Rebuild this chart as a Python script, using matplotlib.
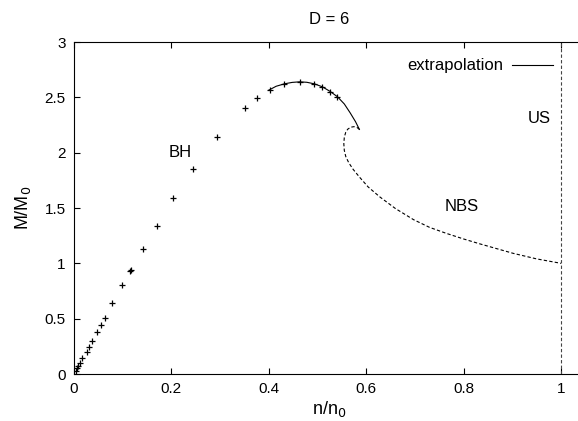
import matplotlib
matplotlib.use("Agg")
import matplotlib.pyplot as plt

plt.rcParams['font.family'] = ['Liberation Sans', 'DejaVu Sans']

# BH data points (crosses)
bh_n = [0.004, 0.0055, 0.0088, 0.0123, 0.017, 0.026, 0.030, 0.0376, 0.047, 0.055,
        0.064, 0.079, 0.0986, 0.115, 0.118, 0.142, 0.170, 0.204, 0.245, 0.293,
        0.351, 0.376, 0.4025, 0.432, 0.463, 0.4935, 0.51, 0.526, 0.541]
bh_m = [0.03, 0.051, 0.072, 0.102, 0.142, 0.20, 0.24, 0.30, 0.38, 0.44,
        0.51, 0.645, 0.80, 0.93, 0.94, 1.13, 1.34, 1.587, 1.855, 2.14,
        2.40, 2.49, 2.57, 2.62, 2.64, 2.62, 2.593, 2.55, 2.50]

# extrapolation (solid)
ex_n = [0.400, 0.415, 0.432, 0.448, 0.463, 0.478, 0.4935, 0.51, 0.526, 0.541, 0.555, 0.567, 0.578, 0.586]
ex_m = [2.565, 2.60, 2.622, 2.635, 2.640, 2.636, 2.622, 2.595, 2.553, 2.505, 2.44, 2.36, 2.28, 2.21]

# NBS branch (dashed)
nbs_n = [0.586, 0.581, 0.575, 0.568, 0.562, 0.558, 0.555, 0.554, 0.555, 0.558, 0.564,
         0.573, 0.586, 0.604, 0.628, 0.66, 0.697, 0.73, 0.765, 0.80, 0.834, 0.87,
         0.902, 0.95, 1.0]
nbs_m = [2.21, 2.228, 2.235, 2.230, 2.212, 2.185, 2.14, 2.08, 2.02, 1.965, 1.91,
         1.85, 1.78, 1.69, 1.60, 1.495, 1.395, 1.325, 1.27, 1.22, 1.175, 1.13,
         1.09, 1.04, 1.0]

x_ticks = [0, 0.2, 0.4, 0.6, 0.8, 1]
x_labels = ['0', '0.2', '0.4', '0.6', '0.8', '1']
y_ticks = [0, 0.5, 1, 1.5, 2, 2.5, 3]
y_labels = ['0', '0.5', '1', '1.5', '2', '2.5', '3']

W, H = 578, 421
fig = plt.figure(figsize=(W / 100, H / 100), dpi=100)
left, right, top, bottom = 74, 585.4, 42, 374
ax = fig.add_axes([left / W, (H - bottom) / H, (right - left) / W, (bottom - top) / H])
ax.set_xlim(0, 1.05)
ax.set_ylim(0, 3)

ax.plot(bh_n, bh_m, linestyle='none', marker='+', markersize=4.5, markeredgewidth=0.9, color='black')
ax.plot(ex_n, ex_m, color='black', linewidth=0.8)
ax.plot(nbs_n, nbs_m, color='black', linewidth=0.8, linestyle=(0, (3, 2)))
ax.axvline(1.0, color='#444444', linewidth=0.8, linestyle=(0, (3, 2)))

# legend-like key
ax.text(0.881, 2.79, 'extrapolation', ha='right', va='center', fontsize=12)
ax.plot([0.899, 0.984], [2.79, 2.79], color='black', linewidth=0.8)

ax.text(0.218, 2.0, 'BH', ha='center', va='center', fontsize=12)
ax.text(0.797, 1.51, 'NBS', ha='center', va='center', fontsize=12)
ax.text(0.955, 2.31, 'US', ha='center', va='center', fontsize=12)

ax.set_xticks(x_ticks)
ax.set_xticklabels(x_labels)
ax.set_yticks(y_ticks)
ax.set_yticklabels(y_labels)
ax.tick_params(direction='in', length=4, width=0.8, labelsize=11, top=True, right=False, pad=6)
for s in ax.spines.values():
    s.set_linewidth(0.8)
ax.spines['right'].set_visible(False)

ax.set_xlabel('n/n$_0$', fontsize=13, labelpad=2)
ax.set_ylabel('M/M$_0$', fontsize=13, labelpad=8)
fig.text(329 / W, 1 - 20 / H, 'D = 6', ha='center', va='center', fontsize=12)

fig.savefig('out.png', dpi=100)
